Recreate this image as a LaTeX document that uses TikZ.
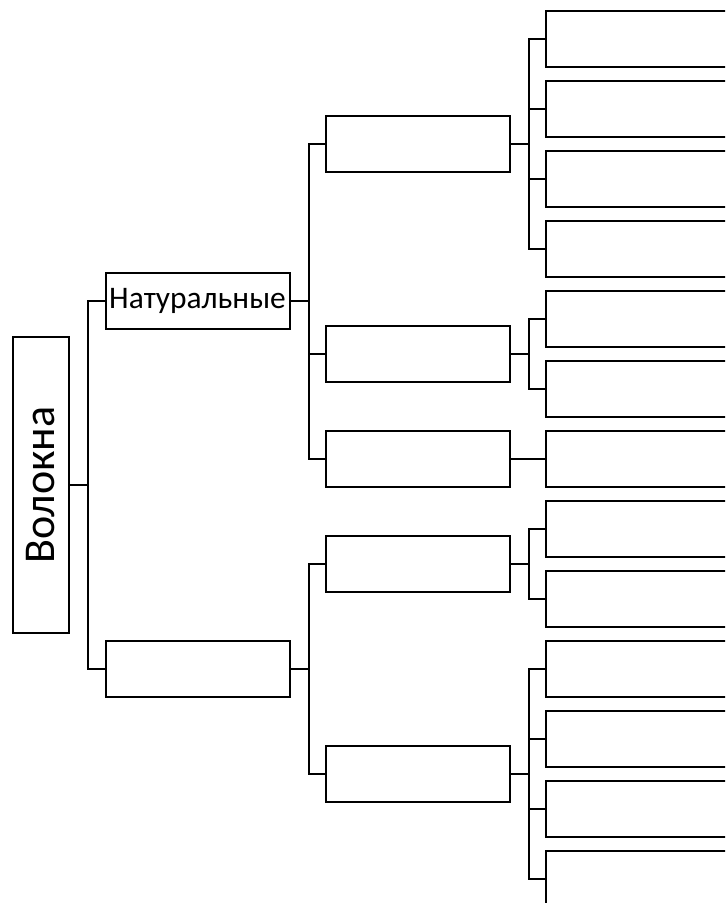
\documentclass[tikz,border=0pt]{standalone}
\usepackage{fontspec}
\setmainfont{Carlito}
\usepackage{tikz}
\usetikzlibrary{positioning}

\begin{document}
\begin{tikzpicture}[x=0.5pt,y=-0.5pt]
        % Define the styles for the boxes and the branches
        \tikzstyle{fibrebox}=[draw, line width=1pt, inner sep=0pt, minimum width=92pt, minimum height=28pt];
        \tikzstyle{branch}=[line width=1pt];

        % Page frame, the last column runs off its edge
        \useasboundingbox (0,0) rectangle (725,903);
        \clip (0,0) rectangle (725,903);

        % Root box
        \node[fibrebox, minimum width=28pt, minimum height=148pt, font=\fontsize{22}{26}\selectfont] (root) at (41,485) {\rotatebox{90}{Волокна}};

        % First level
        \node[fibrebox, font=\fontsize{15.7}{19}\selectfont] (nat) at (197.5,301) {Натуральные};
        \node[fibrebox] (art) at (197.5,669) {};

        % Second level
        \node[fibrebox] (natA) at (418,144) {};
        \node[fibrebox] (natB) at (418,354) {};
        \node[fibrebox] (natC) at (418,459) {};
        \node[fibrebox] (artA) at (418,564) {};
        \node[fibrebox] (artB) at (418,774) {};

        % Third level
        \foreach \i in {1,...,13}
            \node[fibrebox] (leaf\i) at (638,{39+70*(\i-1)}) {};

        % Branches
        \foreach \c in {nat,art}
            \draw[branch] (root.east) -- ++(18,0) |- (\c.west);
        \foreach \c in {natA,natB,natC}
            \draw[branch] (nat.east) -- ++(18,0) |- (\c.west);
        \foreach \c in {artA,artB}
            \draw[branch] (art.east) -- ++(18,0) |- (\c.west);
        \foreach \l in {1,...,4}
            \draw[branch] (natA.east) -- ++(18,0) |- (leaf\l.west);
        \foreach \l in {5,6}
            \draw[branch] (natB.east) -- ++(18,0) |- (leaf\l.west);
        \draw[branch] (natC.east) -- (leaf7.west);
        \foreach \l in {8,9}
            \draw[branch] (artA.east) -- ++(18,0) |- (leaf\l.west);
        \foreach \l in {10,...,13}
            \draw[branch] (artB.east) -- ++(18,0) |- (leaf\l.west);

    \end{tikzpicture}
\end{document}
